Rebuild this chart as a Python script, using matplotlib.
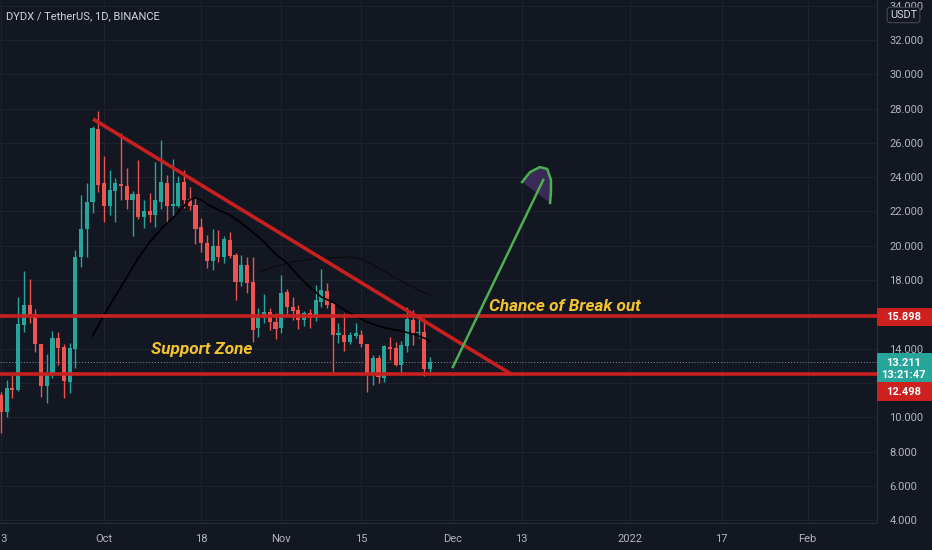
import numpy as np
import matplotlib
matplotlib.use("Agg")
import matplotlib.pyplot as plt
from matplotlib.patches import Rectangle, Polygon
import matplotlib.transforms as mtransforms

# daily candles, day 0 = 13 Sep 2021
opens = [11.30, 10.31, 11.70, 11.60, 15.40, 16.55, 16.05, 14.27, 11.80, 12.55,
         14.60, 14.10, 12.06, 13.98, 19.33, 21.00, 22.57, 26.80, 23.64, 22.32,
         23.21, 23.60, 23.50, 22.67, 23.00, 21.70, 22.03, 21.80, 22.57, 23.68,
         22.32, 22.32, 23.74, 22.70, 22.38, 21.08, 20.18, 19.13, 19.99, 19.37,
         20.34, 19.46, 17.91, 18.88, 17.90, 15.19, 15.77, 16.16, 15.58, 15.19,
         17.32, 16.41, 16.26, 15.67, 16.06, 15.77, 16.74, 17.36, 16.65, 14.80,
         14.80, 14.41, 14.74, 14.80, 14.27, 12.52, 13.44, 12.27, 14.08, 14.02,
         13.05, 14.14, 15.67, 14.90, 14.99, 12.80]
highs = [11.48, 12.17, 12.47, 17.03, 18.55, 18.06, 16.30, 14.30, 13.69, 15.05,
         14.99, 14.27, 14.35, 19.76, 22.96, 23.64, 26.98, 27.88, 25.24, 24.42,
         23.93, 26.56, 24.52, 23.20, 25.00, 22.67, 23.06, 24.90, 26.17, 24.13,
         25.04, 24.07, 24.42, 23.45, 22.79, 21.60, 20.63, 20.96, 20.92, 20.55,
         20.82, 19.60, 19.46, 19.33, 19.33, 16.36, 17.19, 16.40, 16.10, 18.30,
         17.46, 17.00, 16.55, 16.20, 16.30, 17.71, 18.63, 17.81, 16.70, 15.48,
         16.10, 15.00, 15.52, 15.09, 14.30, 13.63, 13.63, 14.20, 14.70, 14.41,
         14.47, 16.45, 16.26, 15.71, 15.77, 13.50]
lows = [9.08, 10.02, 11.13, 11.55, 14.99, 15.50, 13.83, 11.20, 10.85, 12.29,
        13.05, 11.13, 11.44, 12.87, 18.78, 19.37, 21.90, 23.15, 21.41, 21.80,
        21.41, 22.67, 22.13, 20.57, 21.54, 21.02, 21.41, 21.11, 22.13, 21.35,
        21.74, 22.25, 22.19, 22.09, 20.10, 19.66, 18.69, 18.59, 19.07, 19.01,
        19.30, 16.84, 17.66, 17.23, 14.40, 14.70, 15.52, 15.09, 14.55, 14.90,
        15.96, 15.70, 15.13, 15.30, 15.20, 15.60, 16.45, 16.40, 12.66, 14.35,
        13.88, 14.30, 14.60, 14.08, 11.50, 11.88, 12.02, 12.08, 13.34, 12.99,
        12.60, 13.83, 14.22, 14.60, 12.41, 12.66]
closes = [10.31, 11.71, 11.60, 15.44, 16.55, 16.00, 14.27, 11.80, 12.57, 14.60,
          14.05, 12.10, 14.04, 19.33, 21.00, 22.57, 26.85, 23.55, 22.32, 23.25,
          23.64, 23.50, 22.67, 23.00, 21.70, 22.03, 21.80, 22.67, 23.74, 22.32,
          22.42, 23.64, 22.67, 22.32, 21.00, 20.15, 19.13, 19.99, 19.37, 20.38,
          19.41, 17.90, 18.88, 17.85, 15.10, 15.77, 16.16, 15.58, 15.13, 17.27,
          16.41, 16.22, 15.67, 16.06, 15.77, 16.84, 17.42, 16.55, 14.80, 14.90,
          14.41, 14.80, 14.93, 14.27, 12.52, 13.44, 12.33, 14.14, 13.96, 13.05,
          14.20, 15.71, 14.90, 15.00, 12.80, 13.211]

# moving average lines
ma_fast_day = [16, 18, 20, 22, 24, 26, 28, 30, 32, 33, 34, 35, 36, 38, 40, 42, 44,
               46, 48, 50, 52, 54, 56, 58, 60, 62, 64, 66, 68, 70, 72, 74, 75]
ma_fast_val = [14.74, 15.96, 17.07, 18.18, 19.29, 20.22, 20.98, 21.62, 22.32, 22.67,
               22.79, 22.67, 22.44, 22.09, 21.80, 21.33, 20.80, 20.22, 19.52, 19.00,
               18.24, 17.60, 17.01, 16.72, 16.26, 15.91, 15.56, 15.32, 15.15, 15.03,
               14.86, 14.62, 14.45]
ma_slow_day = [45, 47, 49, 51, 53, 55, 57, 59, 61, 63, 65, 67, 69, 71, 73, 75]
ma_slow_val = [18.47, 18.71, 18.88, 19.06, 19.17, 19.23, 19.29, 19.32, 19.35, 19.23,
               18.88, 18.53, 18.12, 17.77, 17.42, 17.13]

resistance = 15.898
support = 12.498
last_price = 13.211
countdown = "13:21:47"
trend_day = [16.1, 89.3]
trend_val = [27.39, 12.498]
arrow_day = [79.0, 94.8]
arrow_val = [12.93, 23.84]
head_day = [91.1, 92.5, 94.2, 95.5, 96.15, 96.15, 96.0]
head_val = [23.72, 24.30, 24.59, 24.48, 23.84, 23.14, 22.50]

date_ticks = [0, 18, 35, 49, 63, 79, 91, 110, 126, 141]
date_labels = ["13", "Oct", "18", "Nov", "15", "Dec", "13", "2022", "17", "Feb"]
price_ticks = [4, 6, 8, 10, 12, 14, 16, 18, 20, 22, 24, 26, 28, 30, 32, 34]
hidden_ticks = [12, 16]  # covered by the price boxes

BG = "#131722"
GRID = "#1e222d"
TXT = "#b2b5be"
UP = "#26a69a"
DOWN = "#ef5350"
LINE_RED = "#c8201f"
BOX_RED = "#cf2020"
GOLD = "#f2c231"

plt.rcParams['font.family'] = ['Roboto', 'DejaVu Sans']
fig = plt.figure(figsize=(9.32, 5.5), dpi=100, facecolor=BG)
ax = fig.add_axes([0, 27 / 550, 877 / 932, 523 / 550], facecolor=BG)

days = np.arange(len(opens))
o = np.array(opens)
c = np.array(closes)
cols = [UP if cc >= oo else DOWN for oo, cc in zip(o, c)]
ax.vlines(days, lows, highs, colors=cols, linewidth=1, zorder=3)
body = np.maximum(np.abs(c - o), 0.06)
ax.bar(days, body, bottom=np.minimum(o, c), width=0.72, color=cols, zorder=4)

ax.plot(ma_fast_day, ma_fast_val, color="#000000", lw=1.2, zorder=5)
ax.plot(ma_slow_day, ma_slow_val, color="#0a0a0a", lw=0.8, zorder=5)

ax.axhline(resistance, color=LINE_RED, lw=2.6, zorder=6)
ax.axhline(support, color=LINE_RED, lw=2.6, zorder=6)
ax.axhline(last_price, color="#8a8e99", lw=0.7, ls=(0, (1, 2)), zorder=2)
ax.plot(trend_day, trend_val, color=LINE_RED, lw=2.6, zorder=6, solid_capstyle="butt")

ax.add_patch(Polygon(list(zip(head_day, head_val)), closed=True,
                     facecolor="#3b2a57", edgecolor="none", zorder=6))
ax.plot(head_day, head_val, color="#4caf50", lw=1.8, zorder=7)
ax.plot(arrow_day, arrow_val, color="#4caf50", lw=1.8, zorder=7)

ax.text(35.1, 13.98, "Support Zone", color=GOLD, fontsize=12.3, fontstyle="italic",
        fontweight="bold", ha="center", va="center", zorder=8)
ax.text(98.6, 16.49, "Chance of Break out", color=GOLD, fontsize=12.3, fontstyle="italic",
        fontweight="bold", ha="center", va="center", zorder=8)

ax.set_xlim(-0.175, 153.15)
ax.set_ylim(3.84, 34.33)
ax.set_xticks(date_ticks)
ax.set_xticklabels(date_labels)
ax.set_yticks(price_ticks)
ax.set_yticklabels(["" if p in hidden_ticks else "%.3f" % p for p in price_ticks])
ax.yaxis.tick_right()
ax.tick_params(axis="both", length=0, colors=TXT, labelsize=8)
ax.tick_params(axis="y", pad=9)
ax.tick_params(axis="x", pad=8)
ax.grid(True, color=GRID, lw=0.8)
ax.set_axisbelow(True)
for s in ["top", "left"]:
    ax.spines[s].set_visible(False)
for s in ["right", "bottom"]:
    ax.spines[s].set_color("#2a2e39")

tr = mtransforms.blended_transform_factory(ax.transAxes, ax.transData)
bw = 55 / 877
def price_box(yc, h, color, lines):
    ax.add_patch(Rectangle((1.0, yc - h / 2), bw, h, transform=tr, facecolor=color,
                           edgecolor="none", clip_on=False, zorder=10))
    ax.text(1.0 + bw * 0.48, yc, "\n".join(lines), transform=tr, color="white",
            fontsize=8, fontweight="bold", ha="center", va="center",
            linespacing=1.25, clip_on=False, zorder=11)

price_box(resistance - 0.03, 1.05, BOX_RED, ["%.3f" % resistance])
teal_top = last_price + 0.54
teal_bot = last_price - 1.38
price_box((teal_top + teal_bot) / 2, teal_top - teal_bot, UP, ["%.3f" % last_price, countdown])
price_box(teal_bot - 0.35, 1.1, BOX_RED, ["%.3f" % support])

fig.text(890 / 932, 1 - 15 / 550, "USDT", color="#d1d4dc", fontsize=7.8, ha="left",
         va="center", bbox=dict(boxstyle="round,pad=0.25", fc=BG, ec="#434651", lw=0.8),
         zorder=12)
fig.text(6 / 932, 1 - 16 / 550, "DYDX / TetherUS, 1D, BINANCE", color="#d1d4dc",
         fontsize=8, ha="left", va="center")

fig.savefig("out.png", dpi=100, facecolor=BG)
